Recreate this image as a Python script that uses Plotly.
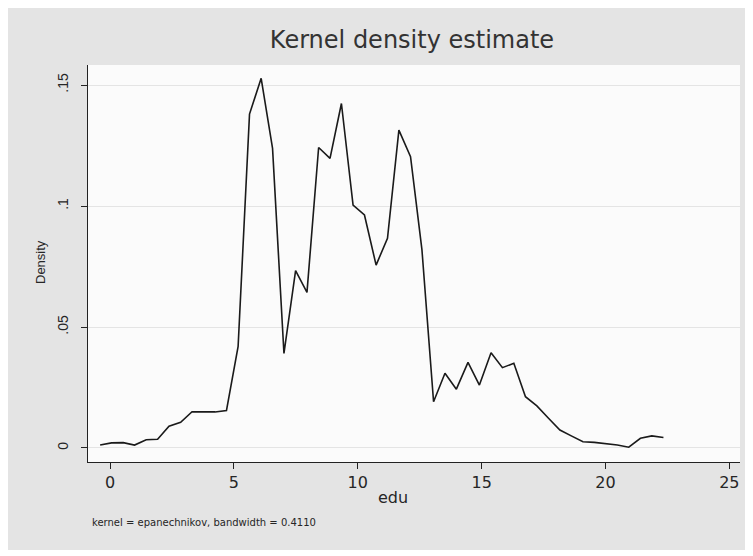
import plotly.graph_objects as go

# Data (Stata kernel density estimate of edu)
edu = [-0.40, 0.06, 0.53, 0.99, 1.46, 1.92, 2.38, 2.85, 3.31, 3.78,
       4.24, 4.70, 5.17, 5.63, 6.10, 6.56, 7.02, 7.49, 7.95, 8.42,
       8.88, 9.34, 9.81, 10.27, 10.74, 11.20, 11.66, 12.13, 12.59, 13.06,
       13.52, 13.98, 14.45, 14.91, 15.38, 15.84, 16.30, 16.77, 17.23, 17.70,
       18.16, 18.62, 19.09, 19.55, 20.02, 20.48, 20.94, 21.41, 21.87, 22.34]
density = [0.0012, 0.0021, 0.0022, 0.0012, 0.0034, 0.0036, 0.0090, 0.0106, 0.0150, 0.0148,
           0.0149, 0.0155, 0.0420, 0.1380, 0.1528, 0.1238, 0.0391, 0.0733, 0.0643, 0.1242,
           0.1197, 0.1424, 0.1004, 0.0963, 0.0756, 0.0867, 0.1314, 0.1204, 0.0820, 0.0191,
           0.0309, 0.0243, 0.0354, 0.0260, 0.0394, 0.0332, 0.0350, 0.0212, 0.0174, 0.0123,
           0.0074, 0.0050, 0.0026, 0.0023, 0.0019, 0.0012, 0.0003, 0.0040, 0.0050, 0.0043]

x_ticks = [0, 5, 10, 15, 20, 25]
x_tick_labels = ["0", "5", "10", "15", "20", "25"]
y_ticks = [0, 0.05, 0.10, 0.15]
y_tick_labels = ["0", ".05", ".1", ".15"]

title_text = "Kernel density estimate"
x_title = "edu"
y_title = "Density"
note_text = "kernel = epanechnikov, bandwidth = 0.4110"

FONT_N = "Liberation Sans, Arial, sans-serif"
FONT_W = "DejaVu Sans, Verdana, sans-serif"
# page has an 8px body margin; figure sized to fill the rest of the window
W, H = 745, 548
L, R, T, B = 80, 13, 57, 94
pw, ph = W - L - R, H - T - B


def px_x(p):
    return (p - L) / pw


def px_y(p):
    return (H - B - p) / ph


fig = go.Figure()
fig.add_trace(go.Scatter(
    x=edu, y=density, mode="lines",
    line=dict(color="#1a1a1a", width=1.6),
    hoverinfo="skip", showlegend=False,
))

fig.update_layout(
    width=W, height=H,
    margin=dict(l=L, r=R, t=T, b=B),
    paper_bgcolor="#e4e4e4",
    plot_bgcolor="#fbfbfb",
    font=dict(family=FONT_N, color="#2a2a2a"),
    title=dict(text=title_text, x=404 / W, xanchor="center",
               y=1 - 32 / H, yanchor="middle", yref="container",
               font=dict(size=24, color="#333333", family=FONT_W)),
    xaxis=dict(
        range=[-0.89, 25.43], tickmode="array",
        tickvals=x_ticks, ticktext=x_tick_labels,
        ticks="outside", ticklen=6, tickcolor="#222", tickwidth=1,
        showline=True, linecolor="#222", linewidth=1.3,
        showgrid=False, zeroline=False,
        tickfont=dict(size=16, color="#262626", family=FONT_W),
    ),
    yaxis=dict(
        range=[-0.0058, 0.1583], tickmode="array",
        tickvals=y_ticks, ticktext=y_tick_labels, tickangle=-90,
        ticks="outside", ticklen=6, tickcolor="#222", tickwidth=1,
        ticklabelstandoff=7,
        showline=True, linecolor="#222", linewidth=1.3,
        showgrid=True, gridcolor="#e4e4e4", gridwidth=1,
        zeroline=False,
        tickfont=dict(size=14, color="#262626", family=FONT_N),
    ),
    shapes=[
        dict(type="rect", xref="paper", yref="paper", layer="below",
             x0=px_x(-5), x1=px_x(W + 5), y0=px_y(H + 5), y1=px_y(H - 6),
             fillcolor="#ffffff", line=dict(width=0)),
    ],
    annotations=[
        dict(text=x_title, xref="paper", yref="paper", x=px_x(385), y=px_y(489),
             xanchor="center", yanchor="middle", showarrow=False,
             font=dict(size=16, color="#262626", family=FONT_W)),
        dict(text=y_title, xref="paper", yref="paper", x=px_x(32), y=px_y(254),
             xanchor="center", yanchor="middle", showarrow=False, textangle=-90,
             font=dict(size=13, color="#262626", family=FONT_N)),
        dict(text=note_text, xref="paper", yref="paper", x=px_x(82), y=px_y(514),
             xanchor="left", yanchor="middle", showarrow=False,
             font=dict(size=10, color="#262626", family=FONT_W)),
    ],
)

fig.write_html("out.html")
